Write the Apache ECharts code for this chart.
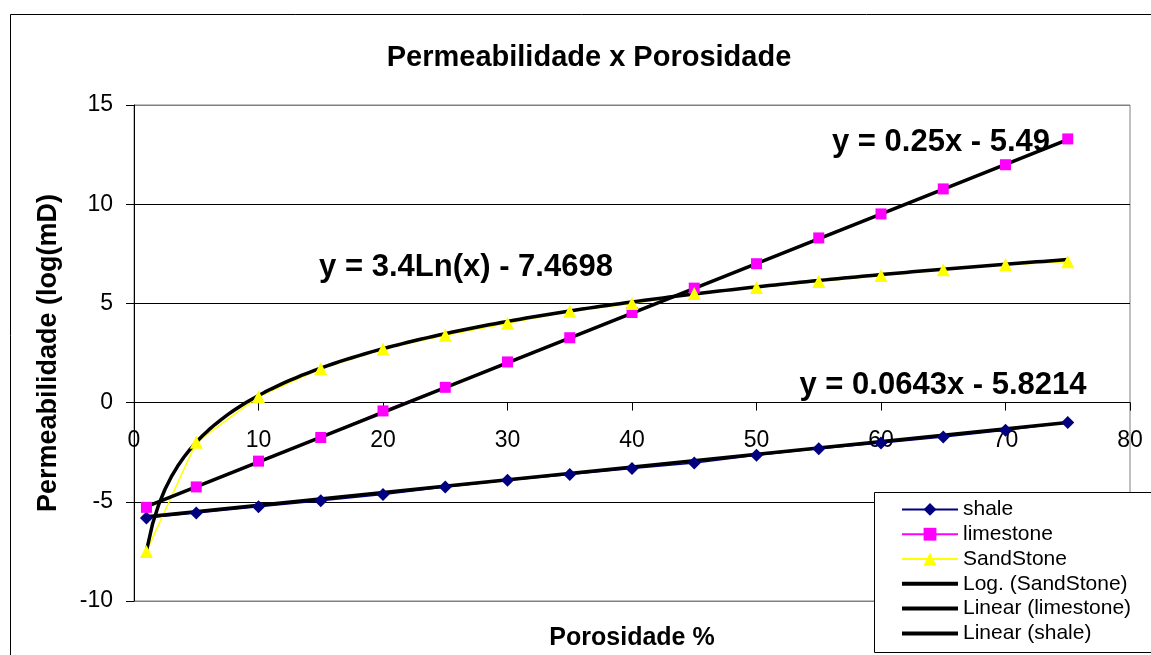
<!DOCTYPE html>
<html>
<head>
<meta charset="utf-8">
<script src="https://cdn.jsdelivr.net/npm/echarts@6/dist/echarts.min.js"></script>
<style>
  html, body { margin: 0; padding: 0; background: #fff; }
  #chart { width: 1151px; height: 655px; }
</style>
</head>
<body>
<div id="chart"></div>
<script>
// ---- Data ----
const porosity = [1, 5, 10, 15, 20, 25, 30, 35, 40, 45, 50, 55, 60, 65, 70, 75];
const shale = [-5.82, -5.56, -5.25, -4.95, -4.63, -4.25, -3.91, -3.62, -3.32, -3.04, -2.65, -2.32, -2.04, -1.73, -1.39, -1.0];
const limestone = [-5.28, -4.25, -2.95, -1.76, -0.42, 0.77, 2.05, 3.27, 4.54, 5.77, 7.0, 8.3, 9.51, 10.77, 11.99, 13.29];
const sandstone = [-7.5, -2.0, 0.3, 1.7, 2.7, 3.4, 4.0, 4.6, 5.0, 5.5, 5.8, 6.1, 6.4, 6.7, 6.95, 7.1];

// Trendline coefficients as printed on the chart
const logSandCoef = [3.4, -7.4698];      // y = a*ln(x) + b
const linLimeCoef = [0.25, -5.49];       // y = a*x + b
const linShaleCoef = [0.0643, -5.8214];  // y = a*x + b

const seriesNames = ['shale', 'limestone', 'SandStone', 'Log. (SandStone)', 'Linear (limestone)', 'Linear (shale)'];
const equationLabels = ['y = 0.25x - 5.49', 'y = 3.4Ln(x) - 7.4698', 'y = 0.0643x - 5.8214'];
const xTicks = [0, 80, 10];
const yTicks = [-10, 15, 5];

const FONT = '"Liberation Sans", Arial, sans-serif';

function pairs(xs, ys) { return xs.map((x, i) => [x, ys[i]]); }

// Trendlines evaluated along the fitted range of the data
const xMin = porosity[0], xMax = porosity[porosity.length - 1];
const trendX = [];
for (let x = xMin; x <= xMax + 1e-9; x += 0.5) trendX.push(x);
const logSand = trendX.map(x => [x, logSandCoef[0] * Math.log(x) + logSandCoef[1]]);
const linLime = [[xMin, linLimeCoef[0] * xMin + linLimeCoef[1]], [xMax, linLimeCoef[0] * xMax + linLimeCoef[1]]];
const linShale = [[xMin, linShaleCoef[0] * xMin + linShaleCoef[1]], [xMax, linShaleCoef[0] * xMax + linShaleCoef[1]]];

// plot-area geometry
const G = { left: 134, top: 105, width: 996, height: 496 };
// x axis sits on y = 0: shift it up from the bottom of the grid
const zeroOffset = -G.height * (0 - yTicks[0]) / (yTicks[1] - yTicks[0]);

const chart = echarts.init(document.getElementById('chart'), null, { renderer: 'canvas' });

const trendIcon = 'path://M0,0 L56,0 L56,4 L0,4 Z';

const option = {
  animation: false,
  backgroundColor: '#ffffff',
  textStyle: { fontFamily: FONT },
  title: {
    text: 'Permeabilidade x Porosidade',
    left: 584, top: 38, textAlign: 'center',
    textStyle: { fontFamily: FONT, fontSize: 29, fontWeight: 'bold', color: '#000' }
  },
  grid: {
    left: G.left, top: G.top, width: G.width, height: G.height,
    containLabel: false, outerBoundsMode: 'none',
    show: true, borderColor: '#808080', borderWidth: 1, backgroundColor: 'transparent'
  },
  xAxis: {
    type: 'value', min: xTicks[0], max: xTicks[1], interval: xTicks[2],
    position: 'bottom', offset: zeroOffset,
    name: 'Porosidade %', nameLocation: 'middle', nameGap: 223,
    nameTextStyle: { fontFamily: FONT, fontSize: 25, fontWeight: 'bold', color: '#000' },
    axisLine: { show: true, onZero: false, lineStyle: { color: '#000', width: 1 } },
    axisTick: { show: true, inside: false, length: 8, lineStyle: { color: '#000' } },
    axisLabel: { fontFamily: FONT, fontSize: 23, color: '#000', margin: 27 },
    splitLine: { show: false }
  },
  yAxis: {
    type: 'value', min: yTicks[0], max: yTicks[1], interval: yTicks[2],
    name: 'Permeabilidade (log(mD)', nameLocation: 'middle', nameRotate: 90, nameGap: 72,
    nameTextStyle: { fontFamily: FONT, fontSize: 27, fontWeight: 'bold', color: '#000' },
    axisLine: { show: true, onZero: false, lineStyle: { color: '#000', width: 1 } },
    axisTick: { show: true, inside: false, length: 8, lineStyle: { color: '#000' } },
    axisLabel: { fontFamily: FONT, fontSize: 23, color: '#000', margin: 21 },
    splitLine: { show: true, lineStyle: { color: ['#808080', '#000', '#000', '#000', '#000', '#808080'], width: 1 } }
  },
  legend: {
    orient: 'vertical', left: 901, top: 497, z: 20, padding: 0,
    itemWidth: 56, itemHeight: 16, itemGap: 0,
    textStyle: { fontFamily: FONT, fontSize: 21, color: '#000', lineHeight: 24.8 },
    data: [
      { name: seriesNames[0] },
      { name: seriesNames[1] },
      { name: seriesNames[2] },
      { name: seriesNames[3], icon: trendIcon },
      { name: seriesNames[4], icon: trendIcon },
      { name: seriesNames[5], icon: trendIcon }
    ]
  },
  series: [
    {
      name: seriesNames[0], type: 'line', data: pairs(porosity, shale),
      symbol: 'diamond', symbolSize: 13, showAllSymbol: true,
      lineStyle: { color: '#000080', width: 1.5 }, itemStyle: { color: '#000080' }
    },
    {
      name: seriesNames[1], type: 'line', data: pairs(porosity, limestone),
      symbol: 'rect', symbolSize: 11, showAllSymbol: true,
      lineStyle: { color: '#FF00FF', width: 1.5 }, itemStyle: { color: '#FF00FF' }
    },
    {
      name: seriesNames[2], type: 'line', data: pairs(porosity, sandstone),
      symbol: 'triangle', symbolSize: 13, showAllSymbol: true,
      lineStyle: { color: '#FFFF00', width: 1.5 }, itemStyle: { color: '#FFFF00' }
    },
    {
      name: seriesNames[3], type: 'line', data: logSand, symbol: 'none', smooth: false,
      lineStyle: { color: '#000', width: 3.5 }, itemStyle: { color: '#000' }
    },
    {
      name: seriesNames[4], type: 'line', data: linLime, symbol: 'none',
      lineStyle: { color: '#000', width: 3.5 }, itemStyle: { color: '#000' }
    },
    {
      name: seriesNames[5], type: 'line', data: linShale, symbol: 'none',
      lineStyle: { color: '#000', width: 3.5 }, itemStyle: { color: '#000' }
    }
  ],
  graphic: [
    {
      type: 'rect', z: -10, silent: true,
      shape: { x: 10.5, y: 14.5, width: 1160, height: 700 },
      style: { fill: 'none', stroke: '#000', lineWidth: 1 }
    },
    {
      type: 'rect', z: 15, silent: true,
      shape: { x: 874.5, y: 492.5, width: 300, height: 160 },
      style: { fill: '#fff', stroke: '#000', lineWidth: 1 }
    },
    {
      type: 'text', z: 16, x: 941, y: 142,
      style: { text: equationLabels[0], font: 'bold 31px ' + FONT, fill: '#000', textAlign: 'center', textVerticalAlign: 'middle' }
    },
    {
      type: 'text', z: 16, x: 466, y: 267,
      style: { text: equationLabels[1], font: 'bold 31px ' + FONT, fill: '#000', textAlign: 'center', textVerticalAlign: 'middle' }
    },
    {
      type: 'text', z: 16, x: 943, y: 385,
      style: { text: equationLabels[2], font: 'bold 31px ' + FONT, fill: '#000', textAlign: 'center', textVerticalAlign: 'middle' }
    }
  ]
};
chart.setOption(option);
</script>
</body>
</html>
